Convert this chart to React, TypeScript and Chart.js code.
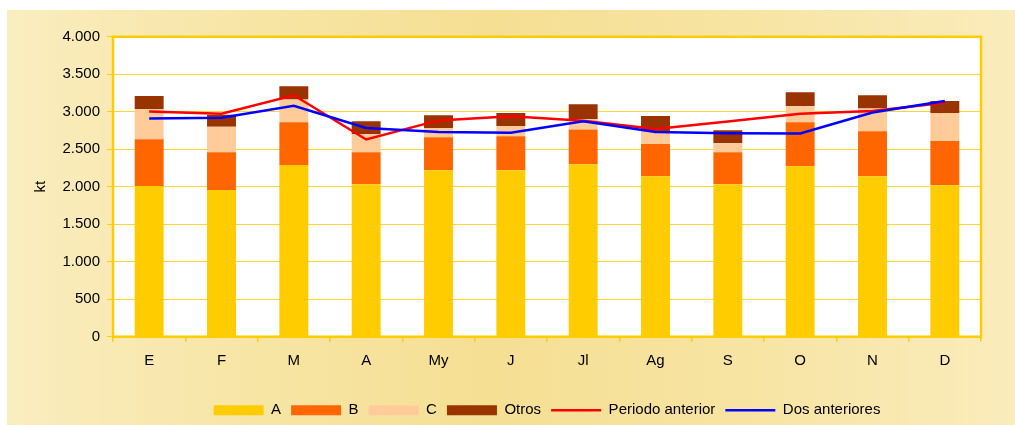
import React, { useEffect, useRef } from 'react';
import { Chart, registerables } from 'chart.js';

Chart.register(...registerables);

const categories = ['E', 'F', 'M', 'A', 'My', 'J', 'Jl', 'Ag', 'S', 'O', 'N', 'D'];
const serieA = [2010, 1955, 2290, 2035, 2220, 2220, 2300, 2140, 2035, 2275, 2140, 2020];
const serieB = [625, 505, 570, 425, 440, 455, 465, 430, 425, 585, 600, 590];
const serieC = [400, 340, 305, 240, 120, 135, 135, 175, 120, 215, 305, 375];
const serieOtros = [175, 160, 175, 175, 175, 175, 200, 200, 175, 185, 175, 160];
const periodoAnterior = [3005, 2975, 3220, 2630, 2885, 2940, 2880, 2770, 2870, 2975, 3010, 3120];
const dosAnteriores = [2910, 2920, 3080, 2785, 2730, 2720, 2875, 2730, 2715, 2710, 2990, 3145];
const yMin = 0;
const yMax = 4000;
const yStep = 500;
const yTitle = 'kt';

const FONT = '"Liberation Sans", Arial, Helvetica, sans-serif';

function fmt(v: number): string {
  return String(Math.round(v)).replace(/\B(?=(\d{3})+(?!\d))/g, '.');
}

const plotFramePlugin = {
  id: 'plotFrame',
  beforeDraw(chart: any) {
    const { ctx, chartArea: a } = chart;
    ctx.save();
    ctx.fillStyle = '#FFFFFF';
    ctx.fillRect(a.left, a.top, a.right - a.left, a.bottom - a.top);
    ctx.restore();
  },
  afterDatasetsDraw(chart: any) {
    const { ctx, chartArea: a } = chart;
    ctx.save();
    ctx.strokeStyle = '#FFCC00';
    ctx.lineWidth = 2.5;
    ctx.strokeRect(a.left, a.top, a.right - a.left, a.bottom - a.top);
    ctx.restore();
  },
};

export default function App() {
  const ref = useRef<HTMLCanvasElement | null>(null);

  useEffect(() => {
    if (!ref.current) return;
    const barCommon = { type: 'bar' as const, stack: 'bars', barPercentage: 0.4, categoryPercentage: 1, borderWidth: 0, order: 2 };
    const chart = new Chart(ref.current, {
      type: 'bar',
      data: {
        labels: categories,
        datasets: [
          { ...barCommon, label: 'A', data: serieA, backgroundColor: '#FFCC00' },
          { ...barCommon, label: 'B', data: serieB, backgroundColor: '#FF6600' },
          { ...barCommon, label: 'C', data: serieC, backgroundColor: '#FFCC99' },
          { ...barCommon, label: 'Otros', data: serieOtros, backgroundColor: '#993300' },
          {
            type: 'line', label: 'Periodo anterior', data: periodoAnterior, stack: 'p1',
            borderColor: '#FF0000', backgroundColor: '#FF0000', borderWidth: 2.5,
            pointRadius: 0, tension: 0, order: 1,
          } as any,
          {
            type: 'line', label: 'Dos anteriores', data: dosAnteriores, stack: 'p2',
            borderColor: '#0000FF', backgroundColor: '#0000FF', borderWidth: 2.5,
            pointRadius: 0, tension: 0, order: 0,
          } as any,
        ],
      },
      options: {
        responsive: false,
        animation: false,
        devicePixelRatio: 1,
        layout: { padding: { top: 26.8, right: 34, bottom: 22.3, left: 0 } },
        plugins: {
          tooltip: { enabled: false },
          legend: {
            position: 'bottom',
            fullSize: false,
            labels: {
              usePointStyle: true,
              pointStyleWidth: 50,
              boxWidth: 50,
              boxHeight: 10,
              padding: 10,
              color: '#000000',
              font: { family: FONT, size: 15 },
              generateLabels: (c: any) =>
                c.data.datasets.map((ds: any, i: number) => {
                  const isLine = ds.type === 'line';
                  return {
                    text: ds.label,
                    fillStyle: isLine ? ds.borderColor : ds.backgroundColor,
                    strokeStyle: isLine ? ds.borderColor : ds.backgroundColor,
                    lineWidth: isLine ? 2.5 : 0,
                    pointStyle: isLine ? 'line' : 'rect',
                    hidden: false,
                    datasetIndex: i,
                    fontColor: '#000000',
                  };
                }),
            },
          },
        },
        scales: {
          x: {
            offset: true,
            grid: {
              display: true,
              drawOnChartArea: false,
              drawTicks: true,
              tickLength: 5,
              color: '#FFCC00',
              tickColor: '#FFCC00',
              lineWidth: 1.5,
              offset: true,
            },
            border: { display: false },
            ticks: { color: '#000000', font: { family: FONT, size: 15 }, padding: 10, maxRotation: 0, autoSkip: false },
            afterFit: (s: any) => { s.height = 56; },
          },
          y: {
            stacked: true,
            min: yMin,
            max: yMax,
            grid: {
              color: '#FFD633',
              lineWidth: 1,
              drawTicks: true,
              tickLength: 6,
              tickColor: '#FFCC00',
            },
            border: { display: false },
            ticks: {
              stepSize: yStep,
              color: '#000000',
              padding: 7,
              font: { family: FONT, size: 15 },
              callback: (v: any) => fmt(Number(v)),
            },
            title: {
              display: true,
              text: yTitle,
              color: '#000000',
              font: { family: FONT, size: 15 },
              padding: { top: 24.5, bottom: 0 },
            },
            afterFit: (s: any) => { s.width = 106; },
          },
        },
      },
      plugins: [plotFramePlugin],
    });
    return () => chart.destroy();
  }, []);

  return (
    <div style={{ position: 'absolute', left: 0, top: 0, width: 1015, height: 425, background: '#FFFFFF', overflow: 'hidden' }}>
      <div
        style={{
          position: 'absolute', left: 7, top: 10, width: 1008, height: 415, overflow: 'hidden',
          background: 'linear-gradient(to right, #FAEDBF 0%, #F7E5A4 25%, #F5DF93 48%, #F7E4A2 72%, #FAECBB 100%)',
        }}
      >
        <canvas ref={ref} width={1008} height={440} style={{ display: 'block', width: 1008, height: 440 }} />
      </div>
    </div>
  );
}
